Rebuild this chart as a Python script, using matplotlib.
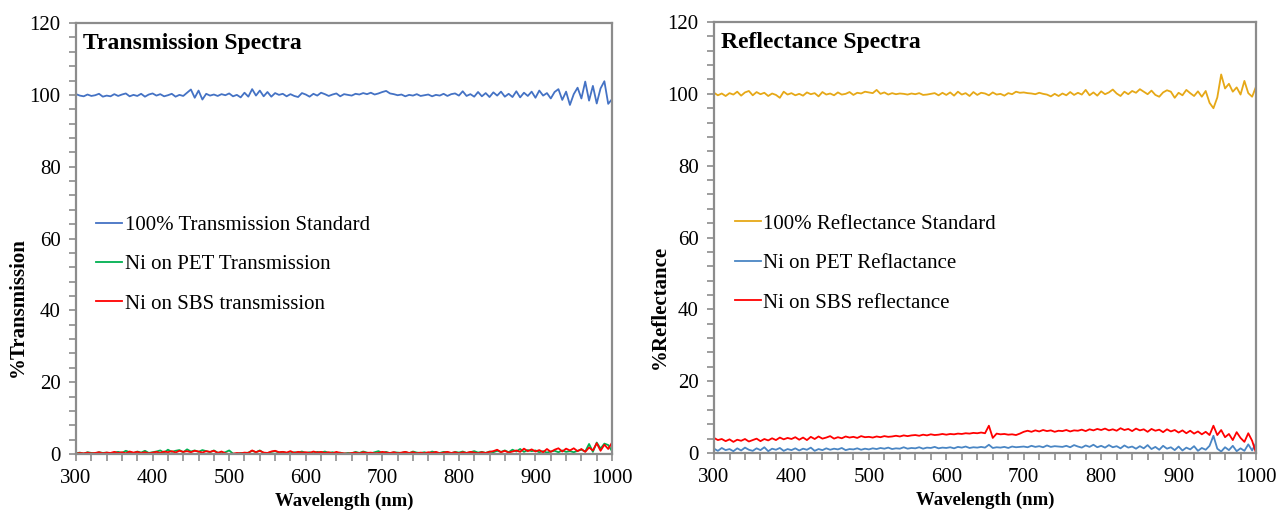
import numpy as np
import matplotlib
matplotlib.use('Agg')
import matplotlib.pyplot as plt
from matplotlib.ticker import MultipleLocator

plt.rcParams['font.family'] = ['Liberation Serif', 'DejaVu Serif']

# values, every 5 nm from 300 to 1000 nm
trans_std = [
    100.2, 99.8, 99.6, 100.1, 99.7, 99.9, 100.3, 99.5, 99.8, 99.6,
    100.2, 99.7, 100.1, 100.4, 99.6, 100.0, 99.7, 100.3, 99.5, 100.1,
    100.4, 99.8, 100.2, 99.6, 99.9, 100.3, 99.5, 100.0, 99.7, 100.6,
    101.5, 99.2, 101.2, 98.7, 100.3, 99.8, 100.1, 99.7, 100.2, 99.9,
    100.4, 99.6, 100.0, 99.3, 100.6, 99.5, 101.6, 99.8, 101.2, 99.6,
    100.8, 99.5, 100.5, 100.0, 100.3, 99.6, 100.2, 99.7, 99.4, 100.5,
    100.1, 99.5, 100.3, 99.8, 100.6, 100.2, 99.7, 100.1, 100.4, 99.6,
    100.2, 100.0, 99.8, 100.3, 100.1, 100.5, 100.2, 100.6, 100.1, 100.4,
    100.8, 101.1, 100.4, 100.2, 99.9, 100.1, 99.6, 100.0, 99.8, 100.2,
    99.7, 99.9, 100.1, 99.6, 100.0, 99.8, 100.3, 99.7, 100.2, 100.4,
    99.8, 101.0, 99.7, 100.2, 99.5, 100.8, 99.6, 100.5, 99.4, 100.7,
    99.8, 100.9, 99.5, 100.3, 99.4, 101.0, 99.3, 100.6, 99.7, 100.9,
    99.2, 101.2, 99.8, 100.5, 99.0, 100.8, 101.6, 98.6, 100.9, 97.2,
    100.2, 102.0, 99.0, 103.7, 98.4, 102.5, 97.6, 101.8, 103.8, 97.5,
    98.8]

pet_trans = [
    0.2, 0.4, 0.1, 0.5, 0.3, 0.2, 0.5, 0.3, 0.4, 0.2,
    0.4, 0.6, 0.3, 0.9, 0.5, 0.2, 0.7, 0.4, 0.9, 0.3,
    0.5, 0.7, 1.0, 0.4, 1.2, 0.6, 0.9, 1.1, 0.5, 1.3,
    0.7, 1.0, 0.6, 1.1, 0.8, 0.5, 1.0, 0.4, 0.2, 0.5,
    1.0, 0.1, 0.0, 0.3, 0.2, 0.4, 0.9, 0.5, 1.0, 0.3,
    0.2, 0.6, 0.8, 0.4, 0.6, 0.3, 0.2, 0.5, 0.4, 0.7,
    0.3, 0.5, 0.2, 0.6, 0.4, 0.7, 0.3, 0.5, 0.2, 0.4,
    0.1, 0.3, 0.2, 0.6, 0.3, 0.7, 0.4, 0.2, 0.5, 0.8,
    0.3, 0.6, 0.2, 0.5, 0.4, 0.3, 0.6, 0.2, 0.7, 0.4,
    0.3, 0.5, 0.2, 0.7, 0.4, 0.3, 0.6, 0.5, 0.2, 0.6,
    0.4, 0.7, 0.3, 0.5, 0.8, 0.4, 0.6, 0.3, 0.7, 0.5,
    0.9, 0.6, 1.0, 0.5, 1.2, 0.7, 1.4, 0.6, 1.1, 0.8,
    1.0, 0.5, 0.8, 0.4, 0.7, 0.9, 0.5, 1.0, 0.6, 0.8,
    0.5, 0.9, 1.2, 0.7, 2.8, 0.6, 3.2, 1.5, 2.9, 2.5,
    0.8]

sbs_trans = [
    0.1, 0.3, 0.2, 0.4, 0.2, 0.3, 0.5, 0.2, 0.4, 0.3,
    0.6, 0.3, 0.5, 0.2, 0.7, 0.4, 0.6, 0.3, 0.5, 0.2,
    0.4, 0.6, 0.3, 0.7, 0.5, 0.8, 0.4, 0.9, 0.6, 0.8,
    0.5, 0.9, 0.7, 0.4, 0.8, 0.6, 0.9, 0.3, 0.7, 0.2,
    0.0, 0.1, 0.3, 0.2, 0.4, 0.3, 1.0, 0.5, 0.9, 0.4,
    0.3, 0.7, 0.9, 0.5, 0.6, 0.4, 0.8, 0.3, 0.6, 0.4,
    0.5, 0.3, 0.7, 0.4, 0.6, 0.3, 0.5, 0.2, 0.6, 0.3,
    0.2, 0.1, 0.3, 0.4, 0.2, 0.5, 0.3, 0.4, 0.2, 0.3,
    0.6, 0.4, 0.3, 0.5, 0.2, 0.4, 0.6, 0.3, 0.5, 0.2,
    0.4, 0.2, 0.5, 0.3, 0.6, 0.2, 0.4, 0.6, 0.3, 0.5,
    0.2, 0.5, 0.3, 0.6, 0.4, 0.2, 0.5, 0.3, 0.6, 0.8,
    1.2, 0.5, 0.9, 0.4, 0.7, 1.0, 0.6, 1.5, 0.8, 1.3,
    0.7, 1.1, 0.5, 1.4, 0.6, 1.2, 1.6, 0.7, 1.5, 1.0,
    1.6, 0.8, 1.4, 0.6, 1.8, 1.0, 3.0, 0.9, 2.6, 1.4,
    3.2]

refl_std = [
    100.3, 99.6, 100.1, 99.4, 100.2, 99.8, 100.6, 99.5, 100.4, 100.8,
    99.6, 100.5, 99.9, 100.3, 99.4, 100.1, 99.7, 98.9, 100.6, 99.8,
    100.2, 99.6, 100.0, 99.5, 100.4, 99.9, 100.2, 99.3, 100.5, 99.8,
    100.1, 99.6, 100.4, 99.8, 100.0, 100.5, 99.7, 100.3, 100.1, 100.6,
    100.4, 100.2, 101.1, 100.0, 100.4, 99.8, 100.2, 99.9, 100.1, 100.0,
    99.8, 100.1, 99.9, 100.2, 99.7, 99.8, 100.0, 100.2, 99.6, 100.3,
    99.7, 100.4, 99.5, 100.6, 99.8, 100.2, 99.4, 100.5, 99.7, 100.3,
    100.1, 99.6, 100.4, 99.8, 100.0, 99.5, 100.2, 99.9, 100.6, 100.3,
    100.4, 100.2, 100.1, 99.9, 100.3, 100.0, 99.8, 99.3, 100.0, 99.4,
    100.1, 99.6, 100.5, 99.7, 100.3, 99.8, 101.1, 99.6, 100.4, 99.5,
    100.7, 99.9, 100.4, 101.2, 100.1, 99.4, 100.6, 99.9, 100.8, 100.3,
    101.3, 100.6, 99.9, 100.9, 99.7, 99.2, 100.4, 101.0, 100.6, 98.9,
    100.3, 99.6, 101.1, 100.2, 99.4, 100.7, 99.2, 100.8, 97.5, 96.0,
    99.0, 105.4, 101.5, 102.8, 100.6, 101.8, 99.8, 103.6, 100.2, 99.2,
    102.0]

pet_refl = [
    1.2, 0.6, 1.4, 0.8, 1.1, 0.5, 1.3, 0.7, 1.5, 0.9,
    0.6, 1.3, 0.8, 1.6, 0.5, 1.2, 0.9, 1.4, 0.6, 1.1,
    0.8, 1.3, 0.7, 1.2, 0.9, 1.5, 0.6, 1.1, 0.8, 1.3,
    0.9, 1.2, 1.0, 1.4, 0.8, 1.1, 1.0, 1.3, 0.9, 1.2,
    1.0, 1.3, 1.1, 1.4, 1.2, 1.5, 1.1, 1.3, 1.2, 1.6,
    1.2, 1.4, 1.3, 1.6, 1.2, 1.5, 1.4, 1.7, 1.3, 1.5,
    1.4, 1.6, 1.3, 1.7, 1.5, 1.8, 1.4, 1.6, 1.5, 1.7,
    1.5, 2.3, 1.4, 1.6, 1.5, 1.7, 1.4, 1.8, 1.6, 1.7,
    1.8, 1.6, 2.0, 1.7, 1.9, 1.6, 2.1, 1.7, 1.9, 1.8,
    1.7, 2.0, 1.6, 2.2, 1.8, 1.5, 2.1, 1.7, 2.3, 1.6,
    2.0, 1.5, 2.2, 1.6, 1.9, 1.3, 2.1, 1.5, 1.8, 1.2,
    1.9, 1.3, 2.2, 1.1, 1.7, 0.9, 2.0, 1.2, 1.6, 0.8,
    1.8, 0.7, 1.5, 1.0, 1.9, 0.6, 1.4, 0.9, 2.0, 4.8,
    1.2, 0.4, 1.6, 0.8, 2.0, 0.5, 1.3, 0.6, 2.4, 0.7,
    2.8]

sbs_refl = [
    4.2, 3.6, 3.9, 3.3, 3.8, 3.1, 3.7, 3.4, 3.9, 3.2,
    3.6, 4.0, 3.3, 3.9, 3.5, 4.1, 3.6, 4.3, 3.8, 4.2,
    3.9, 4.4, 3.7, 4.3, 3.6, 4.5, 3.9, 4.6, 4.0, 4.3,
    4.7, 4.0, 4.4, 4.1, 4.6, 4.3, 4.5, 4.2, 4.7, 4.4,
    4.5, 4.3, 4.6, 4.4, 4.7, 4.5, 4.6, 4.8, 4.6, 4.9,
    4.7, 4.9, 5.0, 4.8, 5.1, 4.9, 5.2, 5.0, 5.1, 5.3,
    5.1, 5.3, 5.2, 5.4, 5.3, 5.5, 5.4, 5.6, 5.5, 5.7,
    5.5, 7.6, 4.2, 5.4, 5.2, 5.3, 5.1, 5.2, 5.0, 5.4,
    5.9, 6.2, 5.9, 6.3, 6.0, 6.4, 6.1, 6.3, 5.9, 6.2,
    6.1, 6.4, 6.0, 6.3, 6.2, 6.5, 6.1, 6.6, 6.3, 6.7,
    6.4, 6.8, 6.3, 6.6, 6.2, 6.9, 6.4, 6.7, 6.1, 6.8,
    6.3, 6.6, 5.9, 6.7, 6.2, 6.5, 5.8, 6.6, 6.0, 6.4,
    5.7, 6.3, 5.5, 6.2, 5.4, 6.0, 5.2, 5.9, 5.0, 7.6,
    5.0, 6.4, 4.4, 5.3, 3.6, 5.8, 4.2, 3.1, 5.5, 3.4,
    0.0]

wl = np.linspace(300, 1000, len(trans_std))

trans_labels = ['100% Transmission Standard', 'Ni on PET Transmission', 'Ni on SBS transmission']
refl_labels = ['100% Reflectance Standard', 'Ni on PET Reflactance', 'Ni on SBS reflectance']


def style_axes(ax, ylabel, title, ylab_x):
    ax.set_xlim(300, 1000)
    ax.set_ylim(0, 120)
    ax.xaxis.set_major_locator(MultipleLocator(100))
    ax.xaxis.set_minor_locator(MultipleLocator(20))
    ax.yaxis.set_major_locator(MultipleLocator(20))
    ax.yaxis.set_minor_locator(MultipleLocator(4))
    for s in ax.spines.values():
        s.set_color('#8c8c8c')
        s.set_linewidth(1.6)
    ax.tick_params(which='both', direction='out', length=5, width=1.2,
                   color='#8c8c8c', labelsize=15, pad=6)
    ax.set_xlabel('Wavelength (nm)', fontsize=13.5, fontweight='bold', labelpad=3)
    ax.set_ylabel(ylabel, fontsize=15, fontweight='bold')
    ax.yaxis.set_label_coords(ylab_x, 0.34)
    ax.text(0.013, 0.952, title, transform=ax.transAxes, fontsize=17,
            fontweight='bold', va='center', ha='left')
    ax.legend(loc='center left', bbox_to_anchor=(0.038, 0.44), frameon=False,
              fontsize=15, handlelength=1.25, handletextpad=0.1,
              labelspacing=0.95, borderpad=0, borderaxespad=0)


fig = plt.figure(figsize=(12.78, 5.11), dpi=100)
ax1 = fig.add_axes([0.0595, 0.1115, 0.4194, 0.8434])
ax2 = fig.add_axes([0.5587, 0.1135, 0.4241, 0.8434])

ax1.plot(wl, trans_std, color='#4472C4', lw=1.3, label=trans_labels[0])
ax1.plot(wl, pet_trans, color='#00B050', lw=1.3, label=trans_labels[1])
ax1.plot(wl, sbs_trans, color='#FF0000', lw=1.3, label=trans_labels[2])
style_axes(ax1, '%Transmission', 'Transmission Spectra', -0.09)

ax2.plot(wl, refl_std, color='#E6A817', lw=1.3, label=refl_labels[0])
ax2.plot(wl, pet_refl, color='#4A86C4', lw=1.3, label=refl_labels[1])
ax2.plot(wl, sbs_refl, color='#FF0000', lw=1.3, label=refl_labels[2])
style_axes(ax2, '%Reflectance', 'Reflectance Spectra', -0.081)

fig.savefig('out.png', dpi=100)
